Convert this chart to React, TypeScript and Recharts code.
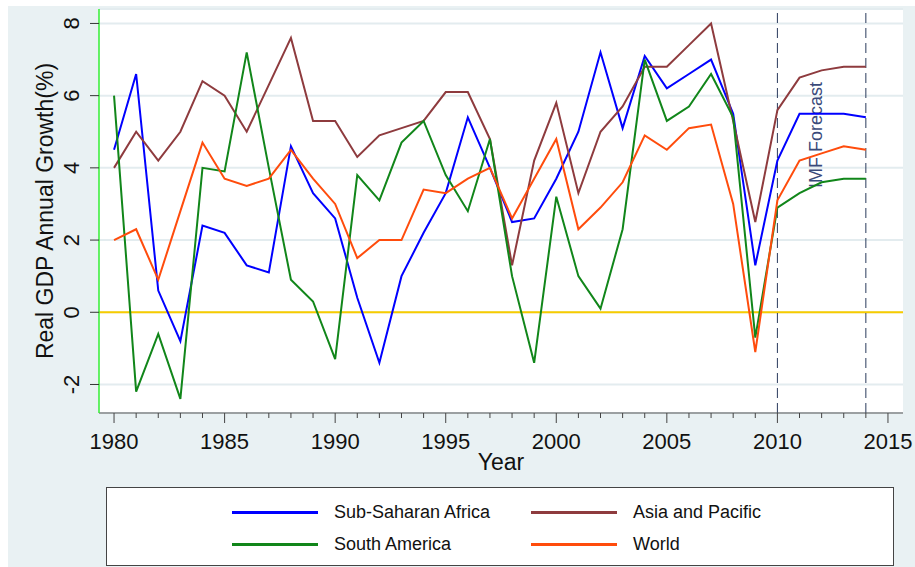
import React from 'react';
import { LineChart, Line, XAxis, YAxis, CartesianGrid, ReferenceLine, Legend } from 'recharts';

const FONT = '"Liberation Sans", Arial, Helvetica, sans-serif';

const years = [
  1980, 1981, 1982, 1983, 1984, 1985, 1986, 1987, 1988, 1989,
  1990, 1991, 1992, 1993, 1994, 1995, 1996, 1997, 1998, 1999,
  2000, 2001, 2002, 2003, 2004, 2005, 2006, 2007, 2008, 2009,
  2010, 2011, 2012, 2013, 2014,
];

const xTicks = [
  1980, 1981, 1982, 1983, 1984, 1985, 1986, 1987, 1988, 1989,
  1990, 1991, 1992, 1993, 1994, 1995, 1996, 1997, 1998, 1999,
  2000, 2001, 2002, 2003, 2004, 2005, 2006, 2007, 2008, 2009,
  2010, 2011, 2012, 2013, 2014, 2015,
];
const yTicks = [-2, 0, 2, 4, 6, 8];
const forecastYears = [2010, 2014];

// growth in %
const subSaharanAfrica = [
  4.5, 6.6, 0.6, -0.8, 2.4, 2.2, 1.3, 1.1, 4.6, 3.3,
  2.6, 0.4, -1.4, 1.0, 2.2, 3.3, 5.4, 4.0, 2.5, 2.6,
  3.7, 5.0, 7.2, 5.1, 7.1, 6.2, 6.6, 7.0, 5.5, 1.3,
  4.2, 5.5, 5.5, 5.5, 5.4,
];
const asiaPacific = [
  4.0, 5.0, 4.2, 5.0, 6.4, 6.0, 5.0, 6.3, 7.6, 5.3,
  5.3, 4.3, 4.9, 5.1, 5.3, 6.1, 6.1, 4.8, 1.3, 4.2,
  5.8, 3.3, 5.0, 5.7, 6.8, 6.8, 7.4, 8.0, 5.3, 2.5,
  5.6, 6.5, 6.7, 6.8, 6.8,
];
const southAmerica = [
  6.0, -2.2, -0.6, -2.4, 4.0, 3.9, 7.2, 4.0, 0.9, 0.3,
  -1.3, 3.8, 3.1, 4.7, 5.3, 3.8, 2.8, 4.8, 1.0, -1.4,
  3.2, 1.0, 0.1, 2.3, 7.0, 5.3, 5.7, 6.6, 5.4, -0.7,
  2.9, 3.3, 3.6, 3.7, 3.7,
];
const world = [
  2.0, 2.3, 0.9, 2.8, 4.7, 3.7, 3.5, 3.7, 4.5, 3.7,
  3.0, 1.5, 2.0, 2.0, 3.4, 3.3, 3.7, 4.0, 2.6, 3.7,
  4.8, 2.3, 2.9, 3.6, 4.9, 4.5, 5.1, 5.2, 3.0, -1.1,
  3.1, 4.2, 4.4, 4.6, 4.5,
];

const series = [
  { key: 'ssa', name: 'Sub-Saharan Africa', color: '#0000ff', values: subSaharanAfrica },
  { key: 'asia', name: 'Asia and Pacific', color: '#8e3b3e', values: asiaPacific },
  { key: 'sam', name: 'South America', color: '#11861a', values: southAmerica },
  { key: 'world', name: 'World', color: '#ff4c0c', values: world },
];

const data = years.map((year, i) => {
  const row: Record<string, number> = { year };
  series.forEach((s) => {
    row[s.key] = s.values[i];
  });
  return row;
});

const XTick = (props: any) => {
  const { x, y, payload } = props;
  const major = payload.value % 5 === 0;
  return (
    <g>
      <line x1={x} x2={x} y1={y} y2={y + (major ? 10 : 5)} stroke="#444" strokeWidth={1} />
      {major && (
        <text x={x} y={y + 36} textAnchor="middle" fontSize={22} fontFamily={FONT} fill="#111">
          {payload.value}
        </text>
      )}
    </g>
  );
};

const YTick = (props: any) => {
  const { x, y, payload } = props;
  const tx = x - 11;
  return (
    <text
      x={tx}
      y={y}
      transform={`rotate(-90 ${tx} ${y})`}
      textAnchor="middle"
      fontSize={22}
      fontFamily={FONT}
      fill="#111"
    >
      {payload.value}
    </text>
  );
};

const YTitle = (props: any) => {
  const { viewBox } = props;
  const cx = viewBox.x + 45;
  const cy = viewBox.y + viewBox.height / 2;
  return (
    <text
      x={cx}
      y={cy}
      transform={`rotate(-90 ${cx} ${cy})`}
      textAnchor="middle"
      fontSize={23}
      fontFamily={FONT}
      fill="#111"
    >
      Real GDP Annual Growth(%)
    </text>
  );
};

const XTitle = (props: any) => {
  const { viewBox } = props;
  return (
    <text
      x={viewBox.x + viewBox.width / 2}
      y={viewBox.y + 57}
      textAnchor="middle"
      fontSize={23}
      fontFamily={FONT}
      fill="#111"
    >
      Year
    </text>
  );
};

const ForecastLabel = (props: any) => {
  const { viewBox } = props;
  const tx = viewBox.x + 45;
  const ty = viewBox.y + 126;
  return (
    <text
      x={tx}
      y={ty}
      transform={`rotate(-90 ${tx} ${ty})`}
      textAnchor="middle"
      fontSize={18}
      fontFamily={FONT}
      fill="#3a4a7a"
    >
      IMF Forecast
    </text>
  );
};

const LegendBox = (props: any) => {
  const { payload = [] } = props;
  // keep the order the series were declared in
  const ordered = series
    .map((s) => payload.find((p: any) => p.value === s.name))
    .filter(Boolean);
  return (
    <div
      style={{
        width: 788,
        height: 79,
        boxSizing: 'border-box',
        border: '1px solid #444',
        background: '#fff',
        position: 'relative',
        fontFamily: FONT,
        fontSize: 18,
        color: '#111',
      }}
    >
      {ordered.map((entry: any, i: number) => {
        const col = i % 2;
        const row = Math.floor(i / 2);
        const left = col === 0 ? 125 : 424;
        const top = row === 0 ? 24 : 56;
        return (
          <div key={entry.value} style={{ position: 'absolute', left, top: top - 11, height: 22, display: 'flex', alignItems: 'center' }}>
            <div style={{ width: 86, height: 3, background: entry.color }} />
            <span style={{ marginLeft: 16, whiteSpace: 'nowrap' }}>{entry.value}</span>
          </div>
        );
      })}
    </div>
  );
};

export default function App() {
  return (
    <div style={{ position: 'absolute', left: 0, top: 0, width: 915, height: 567, background: '#fff', overflow: 'hidden' }}>
      <div style={{ position: 'absolute', left: 8, top: 6, width: 907, height: 561, background: '#e9f1f3' }}>
        <LineChart width={907} height={561} data={data} margin={{ top: 3, right: 12, bottom: 94, left: 0 }}>
          <CartesianGrid vertical={false} stroke="#e3ecef" strokeWidth={2} fill="#fff" />
          <XAxis
            dataKey="year"
            type="number"
            domain={[1979.32, 2015.68]}
            ticks={xTicks}
            interval={0}
            allowDataOverflow
            height={60}
            tickSize={0}
            tickMargin={0}
            tickLine={false}
            tick={<XTick />}
            axisLine={{ stroke: '#555', strokeWidth: 1 }}
            label={<XTitle />}
          />
          <YAxis
            type="number"
            domain={[-2.79, 8.4]}
            ticks={yTicks}
            interval={0}
            allowDataOverflow
            width={91}
            tickSize={9}
            tickMargin={0}
            tickLine={{ stroke: '#333' }}
            tick={<YTick />}
            axisLine={{ stroke: '#33ee33', strokeWidth: 1.5 }}
            label={<YTitle />}
          />
          <ReferenceLine y={0} stroke="#f7cc00" strokeWidth={2} />
          {forecastYears.map((yr, i) => (
            <ReferenceLine
              key={yr}
              x={yr}
              stroke="#2a3a5c"
              strokeWidth={1}
              strokeDasharray="10 5"
              label={i === 0 ? <ForecastLabel /> : undefined}
            />
          ))}
          {series.map((s) => (
            <Line
              key={s.key}
              type="linear"
              dataKey={s.key}
              name={s.name}
              stroke={s.color}
              strokeWidth={2}
              dot={false}
              activeDot={false}
              isAnimationActive={false}
            />
          ))}
          <Legend
            layout="horizontal"
            verticalAlign="middle"
            align="center"
            content={<LegendBox />}
            wrapperStyle={{ left: 98, top: 481, width: 788, height: 79 }}
          />
        </LineChart>
      </div>
    </div>
  );
}
